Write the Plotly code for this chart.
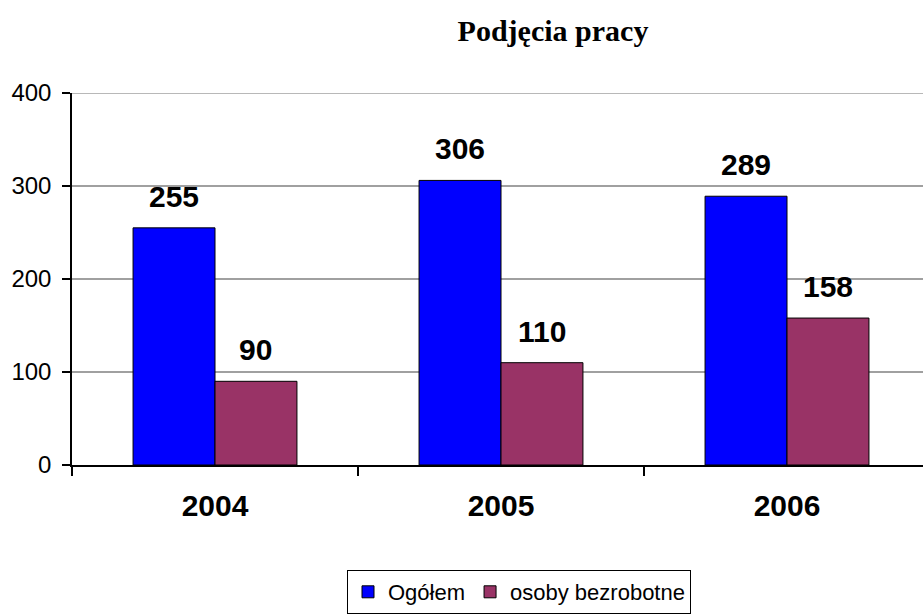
import plotly.graph_objects as go

# Data
years = ["2004", "2005", "2006"]
ogolem = [255, 306, 289]
bezrobotne = [90, 110, 158]
series_names = ["Ogółem", "osoby bezrobotne"]
series_colors = ["#0000FF", "#993366"]
y_ticks = [0, 100, 200, 300, 400]

W, H = 923, 616
ML, MR, MT, MB = 72, 0, 93, 151
plot_w = W - ML - MR
plot_h = H - MT - MB
cat_px = 286  # width of one category slot in pixels
span = plot_w / cat_px

fig = go.Figure()
for name, vals, col in zip(series_names, [ogolem, bezrobotne], series_colors):
    fig.add_trace(go.Bar(
        x=years, y=vals, name=name,
        marker=dict(color=col, line=dict(color="black", width=1)),
    ))

# value labels above each bar (positions in category units)
bargap = 0.427
half_bar = (1 - bargap) / 4
for vals, off in [(ogolem, -half_bar), (bezrobotne, half_bar)]:
    for i, v in enumerate(vals):
        fig.add_annotation(
            x=i + off, y=v, xref="x", yref="y", text="<b>%d</b>" % v,
            showarrow=False, yanchor="bottom", yshift=13,
            font=dict(family="Liberation Sans, Arial", size=30, color="black"),
        )

# top gridline at the axis maximum
fig.add_shape(type="line", xref="paper", yref="y", x0=0, x1=1,
              y0=y_ticks[-1], y1=y_ticks[-1],
              line=dict(color="#A0A0A0", width=1.5), layer="below")

fig.update_layout(
    width=W, height=H,
    margin=dict(l=ML, r=MR, t=MT, b=MB, autoexpand=False),
    paper_bgcolor="white", plot_bgcolor="white",
    barmode="group", bargap=bargap, bargroupgap=0,
    title=dict(
        text="<b>Podjęcia pracy</b>",
        x=(553 - ML) / plot_w, xref="paper", xanchor="center",
        y=1 - 30 / H, yref="container", yanchor="middle",
        font=dict(family="Liberation Serif, Times New Roman", size=30, color="black"),
    ),
    font=dict(family="Liberation Sans, Arial", color="black"),
    showlegend=True,
    legend=dict(
        orientation="h", x=(519 - ML) / plot_w, xanchor="center",
        y=-(614 - (MT + plot_h)) / plot_h, yanchor="bottom",
        bordercolor="black", borderwidth=1,
        font=dict(family="Liberation Sans, Arial", size=22, color="black"),
        itemwidth=30, tracegroupgap=0,
    ),
    xaxis=dict(
        type="category",
        range=[-0.5, -0.5 + span],
        showline=True, linecolor="black", linewidth=1.5,
        ticks="outside", tickson="boundaries", ticklen=9, tickwidth=1.5, tickcolor="black",
        tickfont=dict(family="Liberation Sans, Arial", size=30, color="black"),
        ticklabelstandoff=13,
        tickprefix="<b>", ticksuffix="</b>",
        showgrid=False, automargin=False,
    ),
    yaxis=dict(
        range=[0, 400], tickvals=y_ticks,
        showline=True, linecolor="black", linewidth=1.5,
        ticks="outside", ticklen=8, tickwidth=1.5, tickcolor="black",
        tickfont=dict(family="Liberation Sans, Arial", size=24, color="black"),
        ticklabelstandoff=6,
        showgrid=True, gridcolor="#A0A0A0", gridwidth=1.5,
        zeroline=False, automargin=False,
    ),
)

fig.write_html("out.html")
